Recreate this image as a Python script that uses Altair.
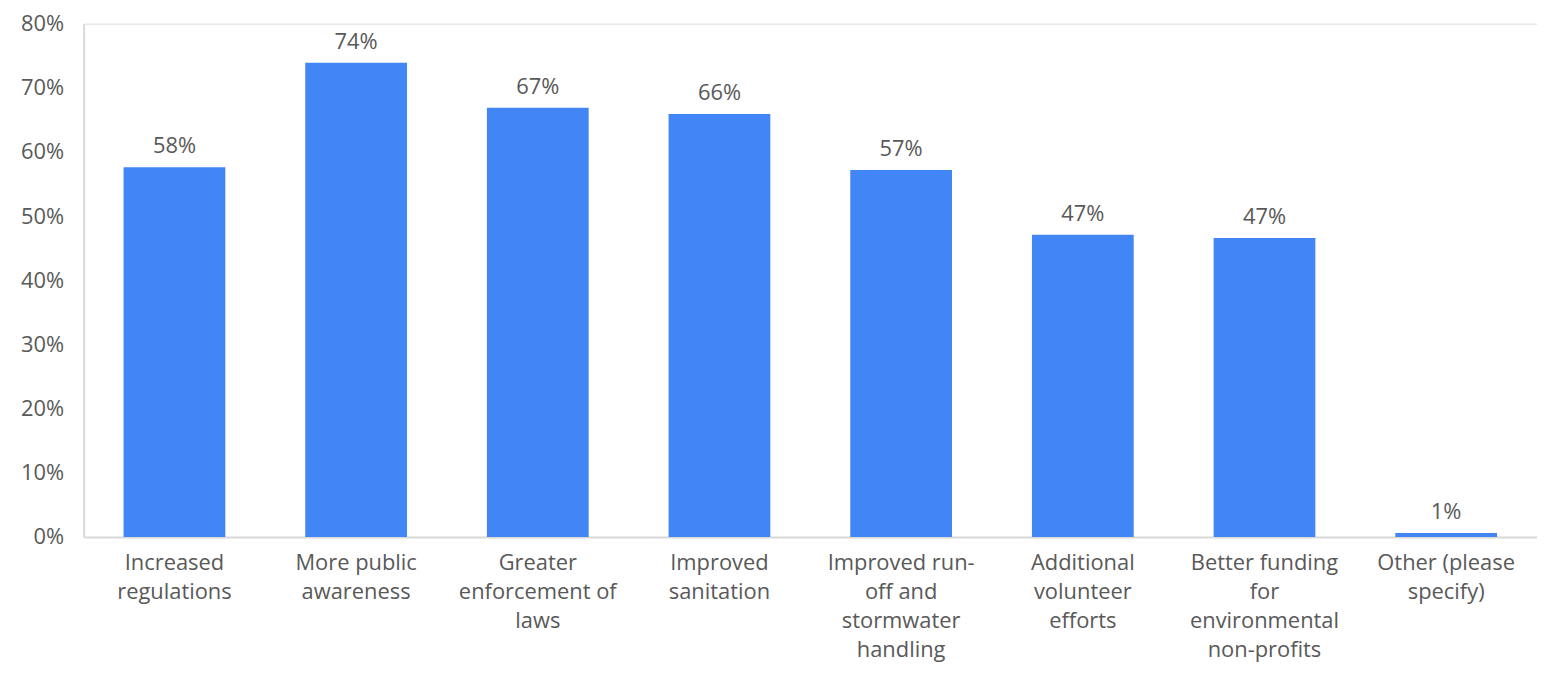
import altair as alt
import pandas as pd

categories = [
    "Increased\nregulations",
    "More public\nawareness",
    "Greater\nenforcement of\nlaws",
    "Improved\nsanitation",
    "Improved run-\noff and\nstormwater\nhandling",
    "Additional\nvolunteer\nefforts",
    "Better funding\nfor\nenvironmental\nnon-profits",
    "Other (please\nspecify)",
]
values = [0.576, 0.739, 0.669, 0.659, 0.572, 0.471, 0.466, 0.006]

df = pd.DataFrame({"category": categories, "value": values})

FONT = "Open Sans"
GREY = "#595959"
FS = 22

x = alt.X(
    "category:N",
    sort=None,
    title=None,
    scale=alt.Scale(paddingInner=0.44, paddingOuter=0.22),
    axis=alt.Axis(
        labelAngle=0,
        labelExpr="split(datum.label, '\\n')",
        labelFont=FONT,
        labelFontSize=FS,
        labelColor=GREY,
        labelLineHeight=29,
        labelPadding=16,
        labelLimit=400,
        ticks=False,
        domainColor="#d9d9d9",
        domainWidth=2,
    ),
)

y = alt.Y(
    "value:Q",
    title=None,
    scale=alt.Scale(domain=[0, 0.8], nice=False),
    axis=alt.Axis(
        values=[0, 0.1, 0.2, 0.3, 0.4, 0.5, 0.6, 0.7, 0.8],
        format=".0%",
        labelFont=FONT,
        labelFontSize=FS,
        labelColor=GREY,
        labelPadding=20,
        ticks=False,
        grid=False,
        domainColor="#d9d9d9",
        domainWidth=2,
    ),
)

bars = alt.Chart(df).mark_bar(color="#4285F4").encode(x=x, y=y)

text = alt.Chart(df).mark_text(
    font=FONT, fontSize=FS, color=GREY, baseline="alphabetic", dy=-14
).encode(x=x, y=y, text=alt.Text("value:Q", format=".0%"))

chart = (
    alt.layer(bars, text)
    .properties(
        width=1461,
        height=516,
        autosize=alt.AutoSizeParams(type="none"),
        padding={"left": 76, "top": 14, "right": 0, "bottom": 127},
    )
    .configure_view(stroke=None)
    .configure(background="white")
)

chart.save("out.html", embed_options={"renderer": "svg", "actions": False})
